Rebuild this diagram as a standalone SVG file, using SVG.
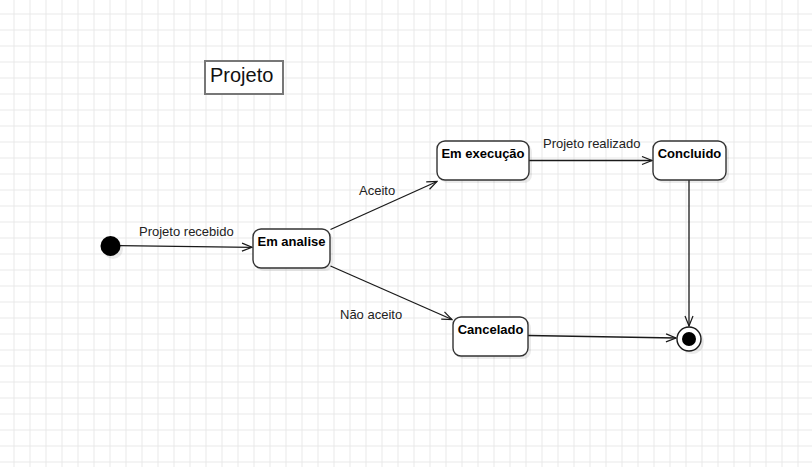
<svg xmlns="http://www.w3.org/2000/svg" width="812" height="467" viewBox="0 0 812 467">
<defs>
<pattern id="grid" x="13.5" y="13.5" width="16" height="16" patternUnits="userSpaceOnUse">
<path d="M0 0.5 H16 M0.5 0 V16" fill="none" stroke="#e8e8e8" stroke-width="1"/>
</pattern>
<marker id="open" viewBox="0 0 12 10" refX="11" refY="5" markerWidth="12" markerHeight="10" markerUnits="userSpaceOnUse" orient="auto">
<path d="M1 1 L11 5 L1 9" fill="none" stroke="#1a1a1a" stroke-width="1.2"/>
</marker>
</defs>
<style>
.state{fill:#fff;stroke:#333;stroke-width:1.4}
.shadow{fill:#000;opacity:0.08}
.nlabel{font-family:"Liberation Sans",Arial,sans-serif;font-size:13px;font-weight:bold;fill:#000;text-anchor:middle}
.elabel{font-family:"Liberation Sans",Arial,sans-serif;font-size:13px;fill:#222}
.edge{fill:none;stroke:#1a1a1a;stroke-width:1.3;marker-end:url(#open)}
</style>
<rect width="812" height="467" fill="#fff"/>
<rect width="812" height="467" fill="url(#grid)"/>

<g id="title">
<rect x="205" y="61" width="78" height="33" fill="#fff" stroke="#777" stroke-width="2"/>
<text x="210" y="82" font-family="'Liberation Sans',Arial,sans-serif" font-size="20" fill="#111">Projeto</text>
</g>

<g id="connectors">
<line class="edge" x1="120" y1="245.7" x2="252" y2="247.3"/>
<line class="edge" x1="330.5" y1="229.5" x2="437" y2="181.5"/>
<line class="edge" x1="330.5" y1="266" x2="452" y2="319.5"/>
<line class="edge" x1="529" y1="160.5" x2="652" y2="160.5"/>
<line class="edge" x1="689" y1="180" x2="689" y2="326"/>
<line class="edge" x1="528" y1="335.5" x2="676" y2="338"/>
<text class="elabel" x="139" y="236">Projeto recebido</text>
<text class="elabel" x="359" y="195">Aceito</text>
<text class="elabel" x="543" y="148">Projeto realizado</text>
<text class="elabel" x="340" y="319">Não aceito</text>
</g>

<g id="initial">
<circle cx="113" cy="249" r="10" class="shadow"/>
<circle cx="110.5" cy="246" r="10" fill="#000"/>
</g>

<g id="em-analise">
<rect x="256" y="232" width="77" height="39" rx="8" class="shadow"/>
<rect x="253" y="229" width="77" height="39" rx="8" class="state"/>
<text class="nlabel" x="291.5" y="246">Em analise</text>
</g>

<g id="em-execucao">
<rect x="440" y="144" width="92" height="39" rx="8" class="shadow"/>
<rect x="437" y="141" width="92" height="39" rx="8" class="state"/>
<text class="nlabel" x="483" y="157.5">Em execução</text>
</g>

<g id="concluido">
<rect x="656" y="144" width="73" height="39" rx="8" class="shadow"/>
<rect x="653" y="141" width="73" height="39" rx="8" class="state"/>
<text class="nlabel" x="689.5" y="157.5">Concluido</text>
</g>

<g id="cancelado">
<rect x="456" y="320" width="75" height="39" rx="8" class="shadow"/>
<rect x="453" y="317" width="75" height="39" rx="8" class="state"/>
<text class="nlabel" x="490.5" y="334">Cancelado</text>
</g>

<g id="final">
<circle cx="692" cy="342" r="12" class="shadow"/>
<circle cx="689" cy="339" r="12" fill="#fff" stroke="#1a1a1a" stroke-width="1.4"/>
<circle cx="689" cy="339" r="7" fill="#000"/>
</g>
</svg>
